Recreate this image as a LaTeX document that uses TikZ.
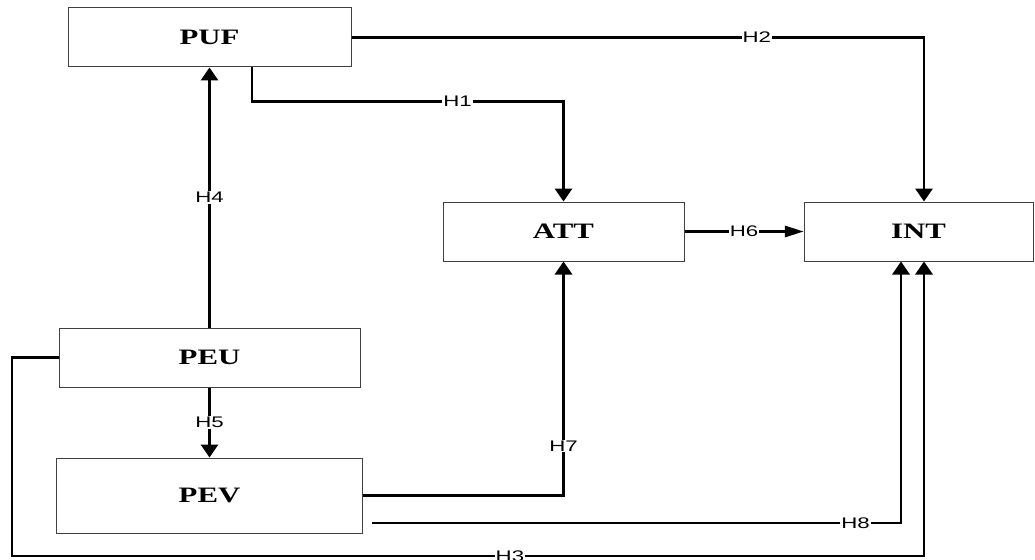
\documentclass[tikz,border=0pt]{standalone}
\usepackage{fontspec}
\newfontfamily\boxfont[FakeStretch=1.4]{Liberation Serif}
\newfontfamily\lblfont[FakeStretch=1.45]{Liberation Sans}
\usetikzlibrary{arrows.meta, calc}
\tikzset{
    box/.style={draw=black!75, line width=0.75pt, minimum height=44.25pt, inner sep=0pt,
        font=\boxfont\bfseries\fontsize{16.5}{18}\selectfont},
    conn/.style={line width=1.6pt, -{Triangle[length=9.75pt,width=13pt]}},
    connh/.style={line width=1.6pt, -{Triangle[length=14pt,width=8.5pt]}},
    lbl/.style={fill=white, inner sep=0.8pt, font=\lblfont\fontsize{11.5}{12}\selectfont}
}

\begin{document}
\begin{tikzpicture}[x=0.75pt, y=-0.75pt]

  \useasboundingbox (0,0) rectangle (1035,560);

  % Kaesten
  \node[box, minimum width=212.25pt] (puf) at (209.5,37.5) {PUF};
  \node[box, minimum width=180.75pt] (att) at (563.5,231.5) {ATT};
  \node[box, minimum width=171.75pt] (int) at (918.5,231.5) {INT};
  \node[box, minimum width=225.75pt] (peu) at (209.5,357.5) {PEU};
  \node[box, minimum width=229.5pt, minimum height=56.25pt] (pev) at (209.5,495.5) {PEV};

  % Hilfspunkte
  \coordinate (h8start) at (372,523);
  \coordinate (h3corner) at (12,556);

  % Hypothesen
  \draw[conn] ($(puf.south)+(42.5,0)$) -- ++(0,34) -| (att.north) node[lbl, pos=0.33] {H1};
  \draw[conn] (puf.east) -| ($(int.north)+(5.5,0)$) node[lbl, pos=0.354] {H2};
  \draw[conn] (peu.west) -| (h3corner) -| ($(int.south)+(5.5,0)$) node[lbl, pos=0.273] {H3};
  \draw[conn] (peu.north) -- (puf.south) node[lbl, midway] {H4};
  \draw[conn] (peu.south) -- (pev.north) node[lbl, midway] {H5};
  \draw[connh] (att.east) -- (int.west) node[lbl, midway] {H6};
  \draw[conn] (pev.east) -| (att.south) node[lbl, pos=0.606] {H7};
  \draw[conn] (h8start) -| ($(int.south)+(-17.5,0)$) node[lbl, pos=0.457] {H8};

\end{tikzpicture}
\end{document}
